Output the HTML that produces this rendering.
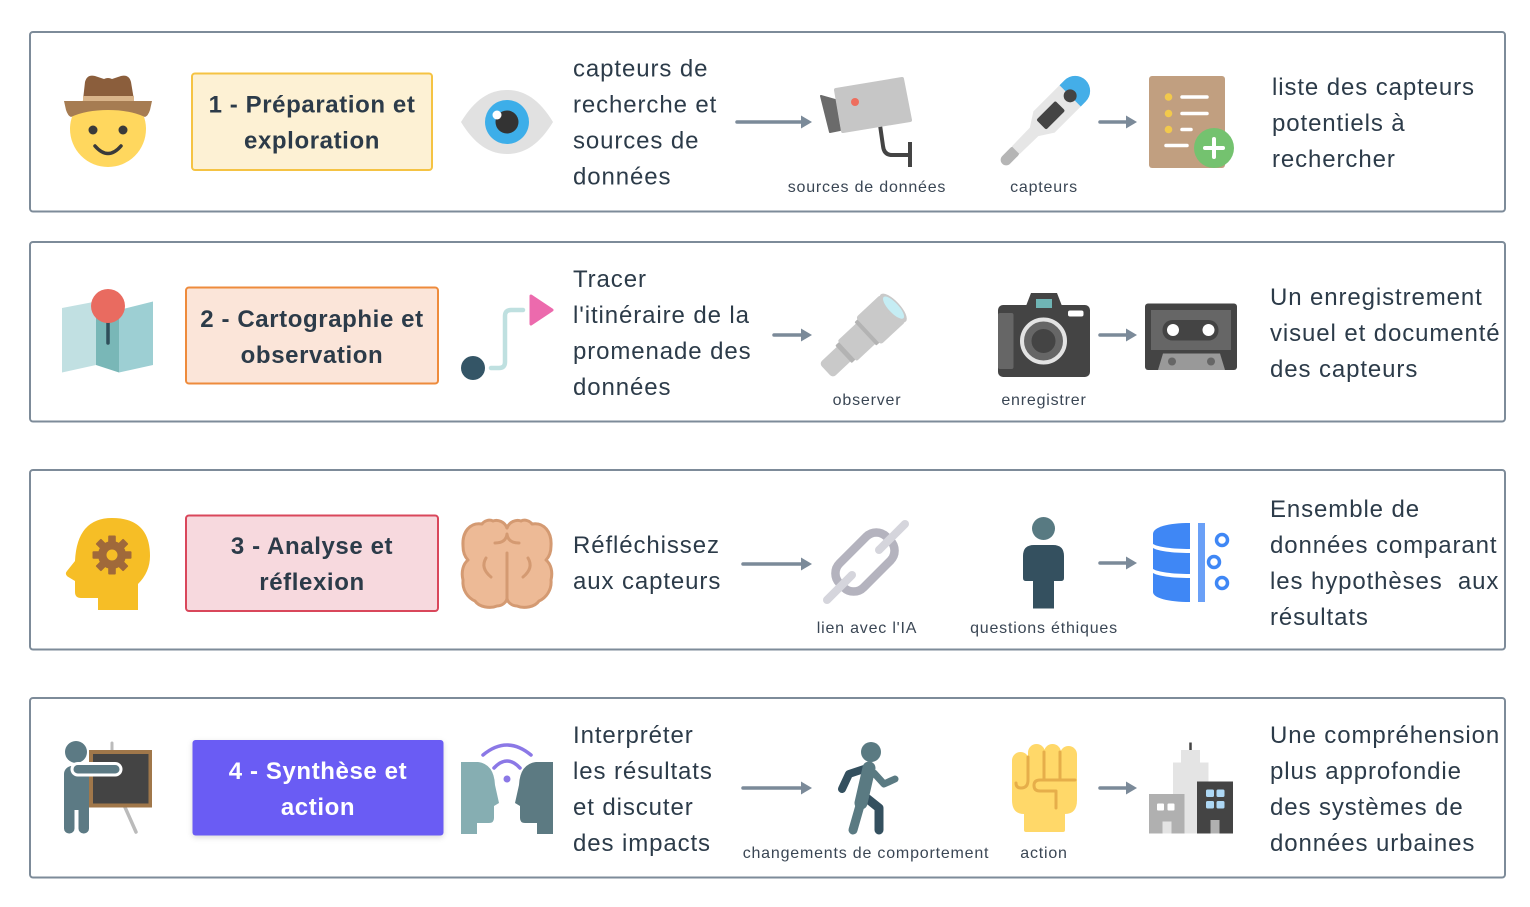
<!DOCTYPE html>
<html>
<head>
<meta charset="utf-8">
<style>
  html,body{margin:0;padding:0;background:#ffffff;}
  svg{display:block;}
  .t{font-family:"Liberation Sans",Arial,sans-serif;font-size:24px;fill:#2c3b49;letter-spacing:0.9px;}
  .s{font-family:"Liberation Sans",Arial,sans-serif;font-size:16px;fill:#3a4654;letter-spacing:0.8px;}
  .b{font-family:"Liberation Sans",Arial,sans-serif;font-size:24px;font-weight:bold;fill:#2c3b49;letter-spacing:0.6px;}
</style>
</head>
<body>
<svg width="1530" height="907" viewBox="0 0 1530 907" xmlns="http://www.w3.org/2000/svg">
  <defs>
    <filter id="sh" x="-10%" y="-10%" width="120%" height="130%">
      <feDropShadow dx="0" dy="2" stdDeviation="3" flood-color="#000" flood-opacity="0.15"/>
    </filter>
  </defs>

  <!-- Row boxes -->
  <g fill="none" stroke="#7d8b99" stroke-width="2">
    <rect x="30" y="32" width="1475" height="179.5" rx="3"/>
    <rect x="30" y="242" width="1475" height="179.5" rx="3"/>
    <rect x="30" y="470" width="1475" height="179.5" rx="3"/>
    <rect x="30" y="698" width="1475" height="179.5" rx="3"/>
  </g>

  <!-- Label boxes -->
  <rect x="192" y="73.5" width="240" height="96.5" rx="3" fill="#fdf1d4" stroke="#f5c343" stroke-width="2"/>
  <rect x="186" y="287.5" width="252" height="96" rx="3" fill="#fbe5d9" stroke="#ee8b3c" stroke-width="2"/>
  <rect x="186" y="515.5" width="252" height="95.5" rx="3" fill="#f7d9de" stroke="#d9475b" stroke-width="2"/>
  <rect x="192.5" y="740" width="251" height="95.5" rx="3" fill="#6a5bf4" filter="url(#sh)"/>

  <text class="b" x="312" y="112.5" text-anchor="middle">1 - Préparation et</text>
  <text class="b" x="312" y="148.5" text-anchor="middle">exploration</text>
  <text class="b" x="312" y="327" text-anchor="middle">2 - Cartographie et</text>
  <text class="b" x="312" y="363" text-anchor="middle">observation</text>
  <text class="b" x="312" y="554" text-anchor="middle">3 - Analyse et</text>
  <text class="b" x="312" y="590" text-anchor="middle">réflexion</text>
  <text class="b" x="318" y="779" text-anchor="middle" style="fill:#ffffff">4 - Synthèse et</text>
  <text class="b" x="318" y="815" text-anchor="middle" style="fill:#ffffff">action</text>

  <!-- Left body texts -->
  <text class="t" x="573" y="76.5">capteurs de</text>
  <text class="t" x="573" y="112.5">recherche et</text>
  <text class="t" x="573" y="148.5">sources de</text>
  <text class="t" x="573" y="184.5">données</text>

  <text class="t" x="573" y="287">Tracer</text>
  <text class="t" x="573" y="323">l'itinéraire de la</text>
  <text class="t" x="573" y="359">promenade des</text>
  <text class="t" x="573" y="395">données</text>

  <text class="t" x="573" y="553">Réfléchissez</text>
  <text class="t" x="573" y="589">aux capteurs</text>

  <text class="t" x="573" y="743">Interpréter</text>
  <text class="t" x="573" y="779">les résultats</text>
  <text class="t" x="573" y="815">et discuter</text>
  <text class="t" x="573" y="851">des impacts</text>

  <!-- Right texts -->
  <text class="t" x="1272" y="95">liste des capteurs</text>
  <text class="t" x="1272" y="131">potentiels à</text>
  <text class="t" x="1272" y="167">rechercher</text>

  <text class="t" x="1270" y="305">Un enregistrement</text>
  <text class="t" x="1270" y="341">visuel et documenté</text>
  <text class="t" x="1270" y="377">des capteurs</text>

  <text class="t" x="1270" y="517">Ensemble de</text>
  <text class="t" x="1270" y="553">données comparant</text>
  <text class="t" x="1270" y="589" style="white-space:pre">les hypothèses  aux</text>
  <text class="t" x="1270" y="625">résultats</text>

  <text class="t" x="1270" y="743">Une compréhension</text>
  <text class="t" x="1270" y="779">plus approfondie</text>
  <text class="t" x="1270" y="815">des systèmes de</text>
  <text class="t" x="1270" y="851">données urbaines</text>

  <!-- Small labels -->
  <text class="s" x="867" y="192" text-anchor="middle">sources de données</text>
  <text class="s" x="1044" y="192" text-anchor="middle">capteurs</text>
  <text class="s" x="867" y="405" text-anchor="middle">observer</text>
  <text class="s" x="1044" y="405" text-anchor="middle">enregistrer</text>
  <text class="s" x="867" y="633" text-anchor="middle">lien avec l'IA</text>
  <text class="s" x="1044" y="633" text-anchor="middle">questions éthiques</text>
  <text class="s" x="866" y="858" text-anchor="middle">changements de comportement</text>
  <text class="s" x="1044" y="858" text-anchor="middle">action</text>

  <!-- Arrows -->
  <g stroke="#7b8a99" stroke-width="3.5" stroke-linecap="round">
    <line x1="737" y1="122" x2="803" y2="122"/>
    <line x1="1100" y1="122" x2="1128" y2="122"/>
    <line x1="774" y1="335" x2="803" y2="335"/>
    <line x1="1100" y1="335" x2="1128" y2="335"/>
    <line x1="743" y1="564" x2="803" y2="564"/>
    <line x1="1100" y1="563" x2="1128" y2="563"/>
    <line x1="743" y1="788" x2="803" y2="788"/>
    <line x1="1100" y1="788" x2="1128" y2="788"/>
  </g>
  <g fill="#7b8a99">
    <polygon points="812,122 801,115.5 801,128.5"/>
    <polygon points="1137,122 1126,115.5 1126,128.5"/>
    <polygon points="812,335 801,328.5 801,341.5"/>
    <polygon points="1137,335 1126,328.5 1126,341.5"/>
    <polygon points="812,564 801,557.5 801,570.5"/>
    <polygon points="1137,563 1126,556.5 1126,569.5"/>
    <polygon points="812,788 801,781.5 801,794.5"/>
    <polygon points="1137,788 1126,781.5 1126,794.5"/>
  </g>

  <!-- ===== ROW 1 ICONS ===== -->
  <!-- Cowboy -->
  <circle cx="108" cy="129" r="38" fill="#ffd75e"/>
  <circle cx="93" cy="130" r="4.5" fill="#3a3a3a"/>
  <circle cx="123" cy="130" r="4.5" fill="#3a3a3a"/>
  <path d="M95,146 Q108,161 121,146" fill="none" stroke="#3a3a3a" stroke-width="3.5" stroke-linecap="round"/>
  <path d="M83,100 L85,82 Q87,74 95,76 L104,79 Q108,77 112,79 L121,76 Q129,74 131,82 L134,100 Z" fill="#8b5e3c"/>
  <rect x="83" y="96" width="51" height="5" fill="#d9b48a"/>
  <path d="M64,101 L152,101 L150,110 Q148,116 145,117 Q130,110 108,110 Q86,110 71,117 Q68,116 66,110 Z" fill="#a67c52"/>

  <!-- Eye -->
  <path d="M461,122 C475,99 490,90 507,90 C524,90 539,99 553,122 C539,145 524,154 507,154 C490,154 475,145 461,122 Z" fill="#e1e1e1"/>
  <circle cx="507" cy="122" r="22" fill="#3daee9"/>
  <circle cx="507" cy="122" r="11.5" fill="#333333"/>
  <circle cx="497" cy="115" r="4.5" fill="#ffffff"/>

  <!-- CCTV camera -->
  <path d="M880,125 L883,146 Q884,155 892,155 L909,155" fill="none" stroke="#444" stroke-width="4"/>
  <line x1="910" y1="142" x2="910" y2="167" stroke="#444" stroke-width="4"/>
  <polygon points="821,96 835,100 840,130 830,132" fill="#6b6b6b" stroke="#6b6b6b" stroke-width="2" stroke-linejoin="round"/>
  <polygon points="836,90 902,79 910,120 843,131" fill="#c6c6c6" stroke="#c6c6c6" stroke-width="4" stroke-linejoin="round"/>
  <circle cx="855" cy="102" r="4" fill="#ee6e5e"/>

  <!-- Thermometer -->
  <g transform="translate(1044,122) rotate(-45)">
    <rect x="-59" y="-5.5" width="22" height="11" rx="5.5" fill="#b5b5b5"/>
    <polygon points="-40,-5.5 -14,-6 0,-15 40,-15 40,15 0,15 -14,6 -40,5.5" fill="#e6e6e6"/>
    <path d="M37,-15 L44,-15 A15,15 0 0 1 44,15 L37,15 Z" fill="#44aee8"/>
    <rect x="-4" y="-7" width="27" height="14" rx="2" fill="#444"/>
    <circle cx="37" cy="0" r="6.5" fill="#444"/>
  </g>

  <!-- Document with plus -->
  <rect x="1149" y="76" width="76" height="92" rx="3" fill="#c19f80"/>
  <g fill="#f2c94c">
    <circle cx="1168.5" cy="97" r="3.8"/>
    <circle cx="1168.5" cy="113.5" r="3.8"/>
    <circle cx="1168.5" cy="129.5" r="3.8"/>
  </g>
  <g stroke="#ffffff" stroke-width="3.5" stroke-linecap="round">
    <line x1="1182" y1="97" x2="1207" y2="97"/>
    <line x1="1182" y1="113.5" x2="1207" y2="113.5"/>
    <line x1="1182" y1="129.5" x2="1191" y2="129.5"/>
    <line x1="1166" y1="145.5" x2="1187" y2="145.5"/>
  </g>
  <circle cx="1214" cy="148" r="20" fill="#74c26f"/>
  <g stroke="#ffffff" stroke-width="4" stroke-linecap="round">
    <line x1="1205" y1="148" x2="1223" y2="148"/>
    <line x1="1214" y1="139" x2="1214" y2="157"/>
  </g>

  <!-- ===== ROW 2 ICONS ===== -->
  <!-- Map -->
  <polygon points="62,308 96,301.5 96,365 62,372.5" fill="#c1e0e2"/>
  <polygon points="96,301.5 119,310 119,372.5 96,365" fill="#79b7b7"/>
  <polygon points="119,310 153,301.5 153,365 119,372.5" fill="#9dcfd3"/>
  <line x1="108" y1="318" x2="108" y2="343" stroke="#2f4f5a" stroke-width="3.5" stroke-linecap="round"/>
  <circle cx="108" cy="306" r="17" fill="#e96b60"/>

  <!-- Route -->
  <path d="M491,368 L499,368 Q505,368 505,362 L505,316 Q505,310 511,310 L523,310" fill="none" stroke="#bfe0e0" stroke-width="4.5" stroke-linecap="round"/>
  <circle cx="473" cy="368" r="12" fill="#345566"/>
  <polygon points="531,296 552,310 531,324" fill="#ec6aad" stroke="#ec6aad" stroke-width="3" stroke-linejoin="round"/>

  <!-- Telescope -->
  <g transform="translate(861,338) rotate(-43)">
    <rect x="-48" y="-10" width="28" height="20" rx="4" fill="#c9c9c9"/>
    <rect x="-24" y="-12" width="6" height="24" rx="1" fill="#b3b3b3"/>
    <rect x="-19" y="-14" width="28" height="28" rx="2" fill="#c9c9c9"/>
    <rect x="6" y="-16" width="6" height="32" rx="1" fill="#b3b3b3"/>
    <rect x="10" y="-18.5" width="34" height="37" rx="3" fill="#c9c9c9"/>
    <ellipse cx="44" cy="0" rx="7" ry="18.5" fill="#c9c9c9"/>
    <ellipse cx="44.5" cy="0" rx="5" ry="14.5" fill="#c5edf4"/>
  </g>

  <!-- Photo camera -->
  <polygon points="1031,293 1057,293 1062,306 1026,306" fill="#444"/>
  <rect x="998" y="305" width="92" height="72" rx="5" fill="#444"/>
  <rect x="998" y="313" width="15.5" height="56" rx="2" fill="#666"/>
  <rect x="1036" y="299" width="16" height="9" fill="#6fb5b5"/>
  <rect x="1068" y="310.5" width="15.5" height="6" rx="2" fill="#ffffff"/>
  <circle cx="1043.5" cy="341" r="21.5" fill="#666" stroke="#e3e3e3" stroke-width="4"/>
  <circle cx="1043.5" cy="341" r="12" fill="#444"/>

  <!-- Cassette -->
  <rect x="1145" y="303.5" width="92" height="66.5" rx="3" fill="#444"/>
  <rect x="1151" y="310" width="80" height="40" fill="#666"/>
  <rect x="1162.5" y="320" width="56" height="20.5" rx="10" fill="#444"/>
  <circle cx="1173" cy="330" r="6" fill="#ffffff"/>
  <circle cx="1208.5" cy="330" r="6" fill="#ffffff"/>
  <polygon points="1163,353.5 1220,353.5 1225,370 1158,370" fill="#999"/>
  <circle cx="1172" cy="361.5" r="4" fill="#666"/>
  <circle cx="1211" cy="361.5" r="4" fill="#666"/>

  <!-- ===== ROW 3 ICONS ===== -->
  <!-- Head with gear -->
  <path d="M98,610 L98,598 L81,598 Q75,598 75,592 L75,581 L67.5,576.5 Q64.5,574 67,571 L75,561 Q77,518 112,518 Q150,518 150,556 Q150,572 138,584 L138,610 Z" fill="#f6be26"/>
  <g transform="translate(112,555)" fill="#a0693a">
    <rect x="-3.8" y="-19.5" width="7.6" height="39" rx="1"/>
    <rect x="-3.8" y="-19.5" width="7.6" height="39" rx="1" transform="rotate(45)"/>
    <rect x="-3.8" y="-19.5" width="7.6" height="39" rx="1" transform="rotate(90)"/>
    <rect x="-3.8" y="-19.5" width="7.6" height="39" rx="1" transform="rotate(135)"/>
    <circle cx="0" cy="0" r="14"/>
    <circle cx="0" cy="0" r="5.5" fill="#f6be26"/>
  </g>

  <!-- Brain -->
  <g>
    <path id="bh" d="M507,528 C505,522 498,519 493,521 C489,519 484,521 482,524 C470,522 462,532 463,546 C463,552 465,557 468,560 C463,564 461,572 463,580 C462,590 468,598 475,601 C479,607 490,609 497,606 C502,606 507,602 507,598 Z" fill="#edba96"/>
    <path d="M507,528 C505,522 498,519 493,521 C489,519 484,521 482,524 C470,522 462,532 463,546 C463,552 465,557 468,560 C463,564 461,572 463,580 C462,590 468,598 475,601 C479,607 490,609 497,606 C502,606 507,602 507,598 Z" fill="#edba96" transform="translate(1014,0) scale(-1,1)"/>
    <g fill="none" stroke="#d49a72" stroke-width="3" stroke-linecap="round" stroke-linejoin="round">
      <path d="M507,528 C505,522 498,519 493,521 C489,519 484,521 482,524 C470,522 462,532 463,546 C463,552 465,557 468,560 C463,564 461,572 463,580 C462,590 468,598 475,601 C479,607 490,609 497,606 C502,606 507,602 507,598"/>
      <path d="M507,528 C505,522 498,519 493,521 C489,519 484,521 482,524 C470,522 462,532 463,546 C463,552 465,557 468,560 C463,564 461,572 463,580 C462,590 468,598 475,601 C479,607 490,609 497,606 C502,606 507,602 507,598" transform="translate(1014,0) scale(-1,1)"/>
      <line x1="507" y1="553" x2="507" y2="599"/>
      <path d="M495,543 Q506,543 507,534 Q508,543 519,543"/>
      <path d="M486,558 Q480,568 491,577"/>
      <path d="M528,558 Q534,568 523,577"/>
    </g>
  </g>

  <!-- Chain -->
  <g transform="translate(865,562) rotate(-45)">
    <rect x="-33" y="-17" width="66" height="34" rx="14" fill="none" stroke="#b4b3be" stroke-width="8.5"/>
  </g>
  <g stroke="#d5d5dc" stroke-width="8" stroke-linecap="round">
    <line x1="879" y1="550" x2="905" y2="524"/>
    <line x1="852" y1="575" x2="827" y2="600"/>
  </g>

  <!-- Person -->
  <circle cx="1043.5" cy="528.5" r="11.5" fill="#587a82"/>
  <path d="M1023,556 Q1023,545 1034,545 L1053,545 Q1064,545 1064,556 L1064,578 Q1064,581 1061,581 L1054,581 L1054,608.5 L1033,608.5 L1033,581 L1026,581 Q1023,581 1023,578 Z" fill="#34505f"/>

  <!-- Database -->
  <path d="M1190,523 C1168,523 1153,527 1153,534 L1153,544 C1158,547 1172,549 1190,549 Z" fill="#3f87f5"/>
  <path d="M1190,553 C1172,553 1158,551 1153,548 L1153,569 C1158,572 1172,574 1190,574 Z" fill="#3f87f5"/>
  <path d="M1190,578 C1172,578 1158,576 1153,573 L1153,592 C1153,598 1168,602 1190,602 Z" fill="#3f87f5"/>
  <g fill="none" stroke="#3f87f5" stroke-width="3.5">
    <circle cx="1222" cy="540" r="5.5"/>
    <circle cx="1214" cy="562" r="5.5"/>
    <circle cx="1222" cy="583" r="5.5"/>
  </g>
  <rect x="1198" y="523" width="7" height="79" fill="#6aa0f7"/>

  <!-- ===== ROW 4 ICONS ===== -->
  <!-- Teacher -->
  <line x1="112" y1="743" x2="112" y2="752" stroke="#bbbbbb" stroke-width="3" stroke-linecap="round"/>
  <line x1="124" y1="805" x2="136" y2="832" stroke="#bbbbbb" stroke-width="3.5" stroke-linecap="round"/>
  <rect x="89" y="750" width="63" height="57.5" fill="#a0774a"/>
  <rect x="93" y="754" width="55.5" height="49.5" fill="#444444"/>
  <circle cx="76" cy="752" r="11" fill="#5c7a84"/>
  <rect x="64" y="766" width="25" height="44" rx="8" fill="#5c7a84"/>
  <rect x="64" y="798" width="10.5" height="35.5" rx="5" fill="#5c7a84"/>
  <rect x="78.5" y="798" width="10.5" height="35.5" rx="5" fill="#5c7a84"/>
  <rect x="72" y="763.5" width="49" height="11.5" rx="5.75" fill="#5c7a84" stroke="#ffffff" stroke-width="3"/>

  <!-- Two heads with signal -->
  <path d="M461,762 L478,762 Q494,764 495,785 L499,803 L494,806 L494,818 Q494,823 489,823 L477,823 L477,834 L461,834 Z" fill="#86aeb2"/>
  <path d="M461,762 L478,762 Q494,764 495,785 L499,803 L494,806 L494,818 Q494,823 489,823 L477,823 L477,834 L461,834 Z" fill="#5c7a82" transform="translate(1014,0) scale(-1,1)"/>
  <g fill="none" stroke="#8b78e6" stroke-width="3.5" stroke-linecap="round">
    <path d="M483,755 Q507,735 531,755"/>
    <path d="M494,768 Q507,754 520,768"/>
  </g>
  <circle cx="507" cy="779" r="3.5" fill="#8b78e6"/>

  <!-- Walker -->
  <polyline points="864,769 849,774 842,789" fill="none" stroke="#34505f" stroke-width="8" stroke-linecap="round" stroke-linejoin="round"/>
  <polyline points="864,796 879,808 879,830" fill="none" stroke="#34505f" stroke-width="9" stroke-linecap="round" stroke-linejoin="round"/>
  <line x1="869" y1="768" x2="861" y2="803" stroke="#5a7a82" stroke-width="13" stroke-linecap="round"/>
  <line x1="861" y1="802" x2="853" y2="830" stroke="#5a7a82" stroke-width="9" stroke-linecap="round"/>
  <polyline points="874,773 884,784 895,779" fill="none" stroke="#5a7a82" stroke-width="7" stroke-linecap="round" stroke-linejoin="round"/>
  <circle cx="871" cy="752" r="10" fill="#5a7a82"/>

  <!-- Fist -->
  <g fill="#ffd869">
    <rect x="1012" y="752" width="17" height="44" rx="8.5"/>
    <rect x="1028" y="744" width="17" height="44" rx="8.5"/>
    <rect x="1044" y="744" width="17" height="44" rx="8.5"/>
    <rect x="1060" y="746" width="17" height="44" rx="8.5"/>
    <path d="M1012,768 L1077,768 L1077,800 Q1077,814 1065,814 L1024,814 Q1012,814 1012,800 Z"/>
    <rect x="1024" y="806" width="41" height="26" rx="2"/>
  </g>
  <g fill="none" stroke="#e6ae4a" stroke-width="3" stroke-linecap="round" stroke-linejoin="round">
    <path d="M1028,757 L1028,780 Q1028,788 1021,788 Q1016,788 1016,783"/>
    <line x1="1044" y1="752" x2="1044" y2="779"/>
    <line x1="1060" y1="752" x2="1060" y2="779"/>
    <path d="M1075,780 L1040,780 Q1034,780 1034,785.5 Q1034,791 1040,791 L1056,791 L1056,808"/>
  </g>

  <!-- City -->
  <line x1="1190.5" y1="742.5" x2="1190.5" y2="751" stroke="#444" stroke-width="2.5"/>
  <rect x="1181" y="750" width="19" height="14" fill="#e4e4e4"/>
  <rect x="1173" y="762.5" width="35.5" height="71" fill="#e4e4e4"/>
  <rect x="1149" y="794" width="35.5" height="39.5" fill="#b0b0b0"/>
  <rect x="1157" y="803.5" width="7" height="7" rx="1" fill="#ffffff"/>
  <rect x="1167.5" y="803.5" width="7" height="7" rx="1" fill="#ffffff"/>
  <rect x="1162.5" y="821.5" width="9" height="12" fill="#e4e4e4"/>
  <rect x="1197" y="781.5" width="36" height="52" fill="#444444"/>
  <g fill="#aed8f5">
    <rect x="1206" y="789.5" width="8" height="7.5" rx="1.5"/>
    <rect x="1216.5" y="789.5" width="8" height="7.5" rx="1.5"/>
    <rect x="1206" y="801" width="8" height="7.5" rx="1.5"/>
    <rect x="1216.5" y="801" width="8" height="7.5" rx="1.5"/>
  </g>
  <rect x="1210.5" y="820" width="9" height="13.5" fill="#b0b0b0"/>
</svg>
</body>
</html>
